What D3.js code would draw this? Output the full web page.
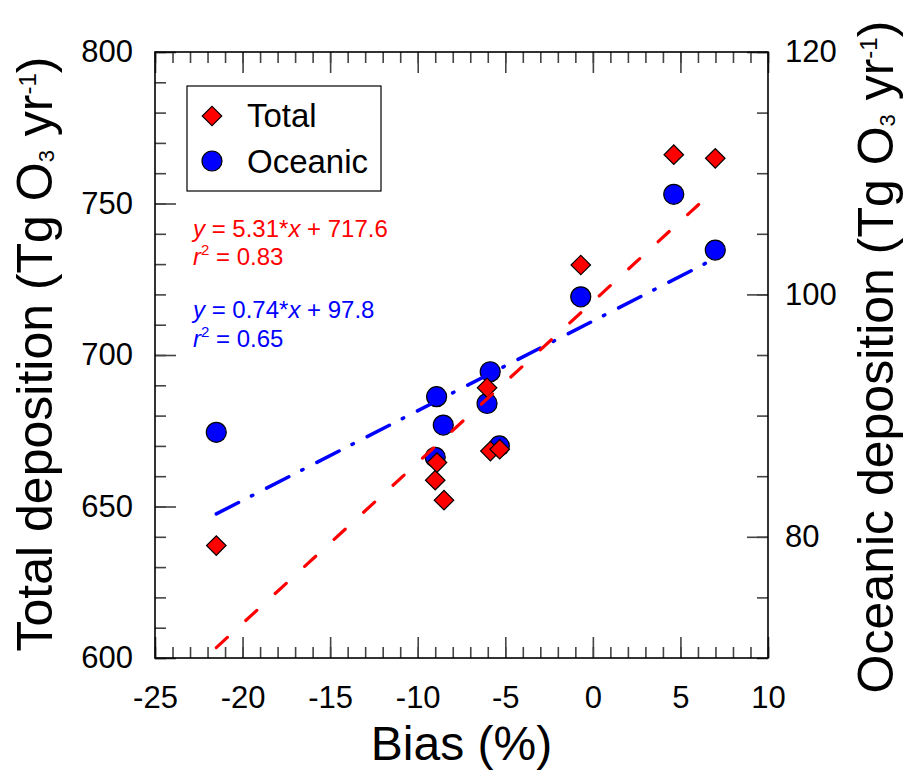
<!DOCTYPE html>
<html>
<head>
<meta charset="utf-8">
<script src="https://cdn.jsdelivr.net/npm/d3@7"></script>
<style>
  html, body { margin: 0; padding: 0; background: #fff; }
  svg { display: block; font-family: "Liberation Sans", Arial, sans-serif; }
</style>
</head>
<body>
<svg id="chart" width="909" height="775"></svg>
<script>
// ---- data ----
const bias      = [-21.5, -9.0, -8.9, -8.5, -6.04, -5.85, -5.32, -0.69, 4.62, 6.99];
const totalDep  = [637.1, 658.7, 664.5, 652.1, 689.2, 668.3, 668.9, 729.7, 766.1, 764.9];
const oceanBias = [-9.0, -8.92, -8.54, -6.04, -5.86, -5.34, -0.69, 4.62, 6.99, -21.5];
const oceanDep  = [86.56, 91.56, 89.22, 91.0, 93.62, 87.5, 99.8, 108.26, 103.66, 88.62];
const fitTotal  = [5.31, 717.6];   // slope, intercept
const fitOcean  = [0.74, 97.8];
const xTicks      = [-25, -20, -15, -10, -5, 0, 5, 10];
const yLeftTicks  = [600, 650, 700, 750, 800];
const yRightTicks = [80, 100, 120];
const seriesNames = ["Total", "Oceanic"];
const eqTotal = ["5.31", "717.6", "0.83"];
const eqOcean = ["0.74", "97.8", "0.65"];

// ---- layout ----
const svg = d3.select("#chart");
const L = 155, T = 52, W = 613, H = 606;
const x  = d3.scaleLinear().domain([-25, 10]).range([L, L + W]);
const yL = d3.scaleLinear().domain([600, 800]).range([T + H, T]);
const yR = d3.scaleLinear().domain([70, 120]).range([T + H, T]);

const tickColor = "#444";
const fontTick = 31;
const fmt = d => String(d);   // plain hyphen minus like the reference

function styleAxis(g) {
  g.select(".domain").remove();
  g.selectAll(".tick line").attr("stroke", tickColor).attr("stroke-width", 1.6);
  g.selectAll(".tick text").attr("fill", "#000").attr("font-size", fontTick)
    .attr("font-family", '"Liberation Sans", Arial, sans-serif');
}

// minor ticks
const minorX = d3.range(-25, 10.001, 1);
const minorL = d3.range(600, 800.001, 10);
const minorR = d3.range(70, 120.001, 5);

svg.append("g").attr("transform", `translate(0,${T + H})`)
  .call(d3.axisBottom(x).tickValues(minorX).tickSizeInner(-11).tickSizeOuter(0).tickFormat(""))
  .call(styleAxis);
svg.append("g").attr("transform", `translate(0,${T})`)
  .call(d3.axisTop(x).tickValues(minorX).tickSizeInner(-11).tickSizeOuter(0).tickFormat(""))
  .call(styleAxis);
svg.append("g").attr("transform", `translate(${L},0)`)
  .call(d3.axisLeft(yL).tickValues(minorL).tickSizeInner(-11).tickSizeOuter(0).tickFormat(""))
  .call(styleAxis);
svg.append("g").attr("transform", `translate(${L + W},0)`)
  .call(d3.axisRight(yR).tickValues(minorR).tickSizeInner(-11).tickSizeOuter(0).tickFormat(""))
  .call(styleAxis);

// major ticks + labels
svg.append("g").attr("transform", `translate(0,${T + H})`)
  .call(d3.axisBottom(x).tickValues(xTicks).tickSizeInner(-21).tickSizeOuter(0).tickPadding(28).tickFormat(fmt))
  .call(styleAxis);
svg.append("g").attr("transform", `translate(0,${T})`)
  .call(d3.axisTop(x).tickValues(xTicks).tickSizeInner(-21).tickSizeOuter(0).tickFormat(""))
  .call(styleAxis);
svg.append("g").attr("transform", `translate(${L},0)`)
  .call(d3.axisLeft(yL).tickValues(yLeftTicks).tickSizeInner(-21).tickSizeOuter(0).tickPadding(22).tickFormat(fmt))
  .call(styleAxis);
svg.append("g").attr("transform", `translate(${L + W},0)`)
  .call(d3.axisRight(yR).tickValues(yRightTicks).tickSizeInner(-21).tickSizeOuter(0).tickPadding(17).tickFormat(fmt))
  .call(styleAxis);

// frame
svg.append("rect").attr("x", L).attr("y", T).attr("width", W).attr("height", H)
  .attr("fill", "none").attr("stroke", "#000").attr("stroke-width", 1.6);

// ---- markers ----
const circleR = 10;
const diamond = d3.symbol().type(d3.symbolSquare).size(190);

svg.append("g").selectAll("circle").data(oceanDep).join("circle")
  .attr("cx", (d, i) => x(oceanBias[i])).attr("cy", d => yR(d)).attr("r", circleR)
  .attr("fill", "#0000ff").attr("stroke", "#000").attr("stroke-width", 1.2);

svg.append("g").selectAll("path").data(totalDep).join("path")
  .attr("d", diamond)
  .attr("transform", (d, i) => `translate(${x(bias[i])},${yL(d)}) rotate(45)`)
  .attr("fill", "#ff0000").attr("stroke", "#000").attr("stroke-width", 1.2);

// ---- regression lines ----
const ext = d3.extent(bias);
svg.append("line")
  .attr("x1", x(ext[0])).attr("y1", yR(fitOcean[0] * ext[0] + fitOcean[1]))
  .attr("x2", x(ext[1] + 0.2)).attr("y2", yR(fitOcean[0] * (ext[1] + 0.2) + fitOcean[1]))
  .attr("stroke", "#0000ff").attr("stroke-width", 3.5).attr("stroke-linecap", "round")
  .attr("stroke-dasharray", "25,14.5,1.5,15.5");

svg.append("line")
  .attr("x1", x(ext[0])).attr("y1", yL(fitTotal[0] * ext[0] + fitTotal[1]))
  .attr("x2", x(ext[1])).attr("y2", yL(fitTotal[0] * ext[1] + fitTotal[1]))
  .attr("stroke", "#ff0000").attr("stroke-width", 3.2).attr("stroke-linecap", "round")
  .attr("stroke-dasharray", "15,25");

// ---- legend ----
const lg = svg.append("g");
lg.append("rect").attr("x", 187).attr("y", 86).attr("width", 194).attr("height", 105)
  .attr("fill", "#fff").attr("stroke", "#000").attr("stroke-width", 1.2);
lg.append("path").attr("d", diamond).attr("transform", "translate(212,116) rotate(45)")
  .attr("fill", "#ff0000").attr("stroke", "#000").attr("stroke-width", 1.2);
lg.append("circle").attr("cx", 212).attr("cy", 161).attr("r", circleR)
  .attr("fill", "#0000ff").attr("stroke", "#000").attr("stroke-width", 1.2);
lg.append("text").attr("x", 247).attr("y", 127).attr("font-size", 33).text(seriesNames[0]);
lg.append("text").attr("x", 247).attr("y", 173).attr("font-size", 33).text(seriesNames[1]);

// ---- equations ----
function equation(color, vals, y1, y2) {
  const t1 = svg.append("text").attr("x", 193).attr("y", y1).attr("font-size", 24).attr("fill", color);
  t1.append("tspan").attr("font-style", "italic").text("y");
  t1.append("tspan").text(` = ${vals[0]}*`);
  t1.append("tspan").attr("font-style", "italic").text("x");
  t1.append("tspan").text(` + ${vals[1]}`);
  const t2 = svg.append("text").attr("x", 193).attr("y", y2).attr("font-size", 24).attr("fill", color);
  t2.append("tspan").attr("font-style", "italic").text("r");
  t2.append("tspan").attr("font-size", 15).attr("dy", -10).text("2");
  t2.append("tspan").attr("dy", 10).text(` = ${vals[2]}`);
}
equation("#ff0000", eqTotal, 237, 265);
equation("#0000ff", eqOcean, 318, 347);

// ---- axis titles ----
svg.append("text").attr("x", L + W / 2).attr("y", 760).attr("text-anchor", "middle")
  .attr("font-size", 48).text("Bias (%)");

function yTitle(label, tx, ty) {
  const t = svg.append("text").attr("transform", `translate(${tx},${ty}) rotate(-90)`)
    .attr("text-anchor", "middle").attr("font-size", 50);
  t.append("tspan").text(label + " (Tg O");
  t.append("tspan").attr("font-size", 22).attr("dy", 2).text("3");
  t.append("tspan").attr("dy", -2).text(" yr");
  t.append("tspan").attr("font-size", 24).attr("dy", -16).text("-1");
  t.append("tspan").attr("dy", 16).text(")");
}
yTitle("Total deposition", 52, 354);
yTitle("Oceanic deposition", 893, 357);
</script>
</body>
</html>
